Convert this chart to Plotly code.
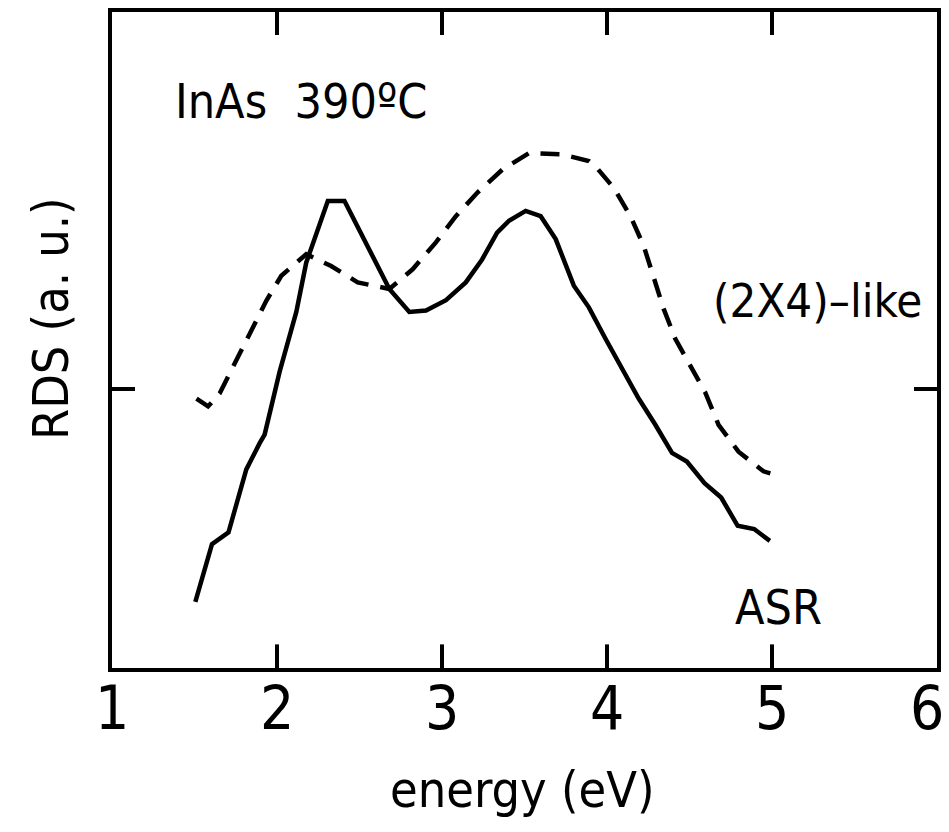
import plotly.graph_objects as go

# ASR (solid) curve: energy (eV) and RDS (a.u.)
asr_energy = [1.505, 1.606, 1.706, 1.814, 1.895, 1.925, 2.016, 2.117, 2.177, 2.308,
              2.409, 2.519, 2.681, 2.802, 2.903, 3.024, 3.144, 3.243, 3.334, 3.406,
              3.507, 3.598, 3.689, 3.799, 3.890, 3.991, 4.091, 4.192, 4.293, 4.394,
              4.484, 4.591, 4.692, 4.792, 4.892, 4.987]
asr_rds = [-3.25, -2.37, -2.19, -1.23, -0.83, -0.70, 0.26, 1.17, 1.92, 2.86,
           2.86, 2.33, 1.52, 1.17, 1.19, 1.35, 1.62, 1.97, 2.38, 2.56,
           2.71, 2.63, 2.28, 1.57, 1.24, 0.76, 0.31, -0.15, -0.55, -0.98,
           -1.11, -1.44, -1.66, -2.09, -2.14, -2.32]

# (2X4)-like (dashed) curve
like_energy = [1.512, 1.582, 1.653, 1.754, 1.854, 1.935, 2.026, 2.177, 2.328, 2.489,
               2.681, 2.822, 2.963, 3.084, 3.215, 3.366, 3.527, 3.729, 3.890, 3.930,
               4.041, 4.142, 4.222, 4.283, 4.343, 4.414, 4.515, 4.594, 4.676, 4.797,
               4.948, 4.990]
like_rds = [-0.15, -0.27, -0.07, 0.44, 0.91, 1.34, 1.72, 2.05, 1.87, 1.62,
            1.52, 1.82, 2.23, 2.63, 2.99, 3.34, 3.59, 3.57, 3.47, 3.39,
            3.06, 2.63, 2.18, 1.67, 1.22, 0.76, 0.31, -0.05, -0.55, -0.96,
            -1.26, -1.29]

x_ticks = [1, 2, 3, 4, 5, 6]
x_tick_labels = ["1", "2", "3", "4", "5", "6"]

FONT = "Liberation Sans Narrow, DejaVu Sans Condensed, Arial Narrow, sans-serif"

fig = go.Figure()
fig.add_trace(go.Scatter(x=asr_energy, y=asr_rds, mode="lines",
                         line=dict(color="black", width=4.5), showlegend=False))
fig.add_trace(go.Scatter(x=like_energy, y=like_rds, mode="lines",
                         line=dict(color="black", width=4.5, dash="19px,12px"),
                         showlegend=False))

fig.update_layout(
    width=949, height=832,
    margin=dict(l=112, r=10, t=8, b=164),
    paper_bgcolor="white", plot_bgcolor="white",
    font=dict(family=FONT, color="black"),
)
fig.update_xaxes(
    range=[1, 6], tickvals=x_ticks, showticklabels=False,
    showgrid=False, zeroline=False,
    showline=True, linecolor="black", linewidth=4, mirror="ticks",
    ticks="inside", ticklen=23, tickwidth=4, tickcolor="black",
)
fig.update_yaxes(
    range=[-4.258, 5.742], tickvals=[0], showticklabels=False,
    showgrid=False, zeroline=False,
    showline=True, linecolor="black", linewidth=4, mirror="ticks",
    ticks="inside", ticklen=23, tickwidth=4, tickcolor="black",
)

# inner tick marks on the bottom and top frame, at the tick values via the x scale
for v in x_ticks[1:-1]:
    fig.add_shape(type="line", x0=v, x1=v, xref="x", y0=0, y1=0.036, yref="paper",
                  line=dict(color="black", width=4))
    fig.add_shape(type="line", x0=v, x1=v, xref="x", y0=1, y1=0.968, yref="paper",
                  line=dict(color="black", width=4))

# x tick labels placed at the tick values through the x scale
for i, (v, lab) in enumerate(zip(x_ticks, x_tick_labels)):
    fig.add_annotation(text=lab, x=v, xref="x", y=-0.004, yref="paper",
                       xanchor="center", yanchor="top", showarrow=False,
                       xshift=-10 if i == len(x_ticks) - 1 else 0,
                       font=dict(family=FONT, size=60, color="black"))

ann = [
    dict(text="InAs\u00a0\u00a0390ºC", x=0.0738, y=0.865, xanchor="left", yanchor="middle", size=48),
    dict(text="(2X4)–like", x=0.7255, y=0.5606, xanchor="left", yanchor="middle", size=47),
    dict(text="ASR", x=0.7533, y=0.0924, xanchor="left", yanchor="middle", size=48),
    dict(text="energy (eV)", x=0.497, y=-0.186, xanchor="center", yanchor="middle", size=50),
]
for a in ann:
    fig.add_annotation(text=a["text"], x=a["x"], y=a["y"], xref="paper", yref="paper",
                       xanchor=a["xanchor"], yanchor=a["yanchor"], showarrow=False,
                       font=dict(family=FONT, size=a["size"], color="black"))
fig.add_annotation(text="RDS (a. u.)", x=-0.0738, y=0.532, xref="paper", yref="paper",
                   xanchor="center", yanchor="middle", textangle=-90, showarrow=False,
                   font=dict(family=FONT, size=50, color="black"))

fig.write_html("out.html")
